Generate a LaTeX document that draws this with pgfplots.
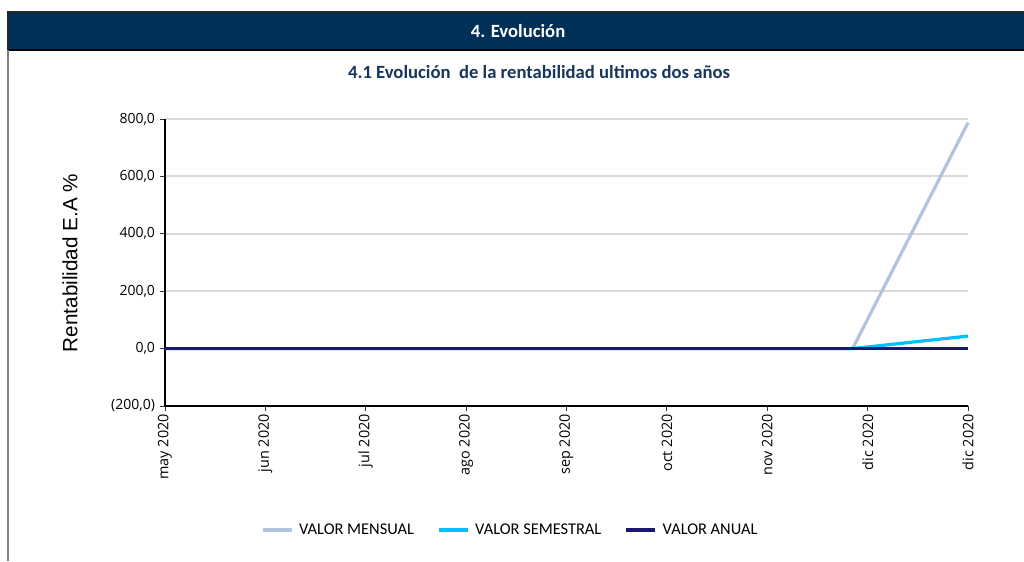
\documentclass[border=0pt]{standalone}
\usepackage{pgfplots}
\pgfplotsset{compat=1.18}
\usepackage{fontspec}
\setmainfont{Open Sans}
\newfontfamily\calib{Carlito}
\newfontfamily\arialf{Liberation Sans}
\definecolor{hdr}{RGB}{0,48,87}
\definecolor{ttl}{RGB}{23,54,93}
\definecolor{mensual}{RGB}{176,196,222}
\definecolor{semestral}{RGB}{0,191,255}
\definecolor{anual}{RGB}{25,25,112}
\definecolor{gridc}{RGB}{217,217,217}
\begin{document}
\begin{tikzpicture}
\useasboundingbox (0,0) rectangle (768pt,420.75pt);
% header
\fill[hdr] (6pt,383.25pt) rectangle (768pt,411.75pt);
\draw[black!85, line width=0.8pt] (6pt,383.25pt) -- (6pt,411.75pt) -- (768pt,411.75pt);
\draw[black, line width=1.2pt] (6pt,383.25pt) -- (768pt,383.25pt);
\node[text=white, font=\calib\bfseries\fontsize{14pt}{16pt}\selectfont] at (388.5pt,397.5pt) {4. Evolución};
\draw[gray, line width=0.8pt] (6pt,0pt) -- (6pt,383.25pt);
% title
\node[text=ttl, font=\calib\bfseries\fontsize{14pt}{16pt}\selectfont] at (404.25pt,366.75pt) {4.1 Evolución\ \ de la rentabilidad ultimos dos años};
% y label
\node[rotate=90, font=\arialf\fontsize{15.5pt}{17pt}\selectfont] at (52.5pt,223.5pt) {Rentabilidad E.A \%};
\begin{axis}[
  at={(123.75pt,116.25pt)}, anchor=south west,
  scale only axis, width=602.25pt, height=215.25pt,
  xmin=0, xmax=8, ymin=-200, ymax=800,
  axis x line=bottom, axis y line=left,
  x axis line style={-, line width=1.5pt, black},
  y axis line style={-, line width=1.5pt, black},
  xtick={0,1,2,3,4,5,6,7,8},
  xticklabels={may 2020,jun 2020,jul 2020,ago 2020,sep 2020,oct 2020,nov 2020,dic 2020,dic 2020},
  ytick={-200,0,200,400,600,800},
  yticklabels={{(200,0)},{0,0},{200,0},{400,0},{600,0},{800,0}},
  tick align=outside, major tick length=4pt,
  tick style={black!80, line width=0.6pt},
  x tick label style={rotate=90, anchor=east, font=\fontsize{10.8pt}{12pt}\selectfont, inner sep=2pt},
  y tick label style={font=\fontsize{10.5pt}{12pt}\selectfont},
  ymajorgrids, major grid style={gridc, line width=1.4pt},
  clip=false,
  legend columns=3,
  legend style={at={(0.43,-0.431)}, anchor=center, draw=none, fill=none,
    font=\calib\fontsize{12.3pt}{14pt}\selectfont,
    /tikz/every odd column/.append style={column sep=2pt},
    /tikz/every even column/.append style={column sep=15pt}},
  legend image code/.code={\draw[#1, line width=3pt] (0pt,0pt) -- (22pt,0pt);},
]
\addplot[mensual, line width=2.4pt] coordinates {(0,0) (1,0) (2,0) (3,0) (4,0) (5,0) (6,0) (6.85,0) (8,787)};
\addlegendentry{VALOR MENSUAL}
\addplot[semestral, line width=2.4pt] coordinates {(0,0) (1,0) (2,0) (3,0) (4,0) (5,0) (6,0) (6.85,0) (8,43.6)};
\addlegendentry{VALOR SEMESTRAL}
\addplot[anual, line width=2.4pt] coordinates {(0,0) (1,0) (2,0) (3,0) (4,0) (5,0) (6,0) (7,0) (8,0)};
\addlegendentry{VALOR ANUAL}
\end{axis}
\end{tikzpicture}
\end{document}
